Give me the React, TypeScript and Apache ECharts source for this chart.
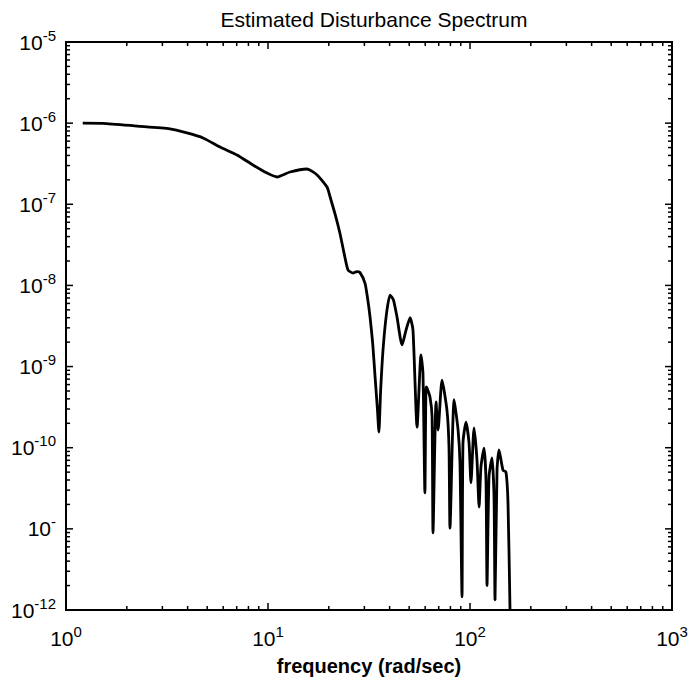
import React, { useEffect, useRef } from "react";
import * as echarts from "echarts";

// frequency (rad/sec)
const freq = [
  1.21, 1.52, 2.25, 3.27, 3.97, 4.77, 5.79, 7.02, 8.43, 9.89, 11.1, 12.85, 15.6, 17.5, 19.6,
  20.3, 21.5, 22.7, 23.8, 24.9, 26.4, 27.5, 28.5, 30.2, 31.1, 32, 33, 33.9, 34.8, 35.4, 36.1,
  37.1, 38.6, 40.2, 41.8, 43.5, 46.1, 48.2, 50.5, 52.2, 54.7, 57.2, 58.5, 59.8, 60.6, 61.3,
  63.4, 64.9, 65.6, 67.9, 69.5, 72.7, 76.9, 78.7, 79.6, 83.4, 87.3, 89.2, 91.3, 92.3, 95.5,
  98.9, 101.1, 104.7, 108.3, 110.9, 113.3, 117.3, 120.0, 121.4, 124.2, 128.5, 131.5, 133.0,
  136.1, 139.2, 145.6, 150.7, 154.2, 157.8,
];

// estimated disturbance spectrum
const spectrum = [
  1.0e-6, 9.95e-7, 9.2e-7, 8.5e-7, 7.57e-7, 6.57e-7, 5.08e-7, 4.05e-7, 3.05e-7, 2.43e-7,
  2.17e-7, 2.5e-7, 2.72e-7, 2.3e-7, 1.63e-7, 1.23e-7, 7.5e-8, 4.4e-8, 2.5e-8, 1.55e-8,
  1.42e-8, 1.48e-8, 1.45e-8, 1.07e-8, 7.0e-9, 4.1e-9, 1.9e-9, 7.4e-10, 3.0e-10, 1.56e-10,
  5.0e-10, 1.6e-9, 4.5e-9, 7.6e-9, 6.6e-9, 4.1e-9, 1.85e-9, 2.8e-9, 4.0e-9, 2.83e-9,
  1.8e-10, 1.39e-9, 8.3e-10, 2.77e-11, 5.6e-10, 5.4e-10, 4.2e-10, 2.4e-10, 8.9e-12, 3.66e-10,
  1.65e-10, 6.8e-10, 2.9e-10, 1.02e-10, 1.02e-11, 3.9e-10, 1.65e-10, 6.5e-11, 1.45e-12,
  1.14e-10, 2.07e-10, 1.14e-10, 3.7e-11, 1.75e-10, 7.0e-11, 1.86e-11, 5.8e-11, 9.9e-11,
  4.0e-11, 2.0e-12, 4.4e-11, 7.5e-11, 2.5e-11, 1.33e-12, 5.3e-11, 9.4e-11, 5.3e-11, 5.0e-11,
  2.1e-11, 1.0e-12,
];

// tick labels (superscripts) as printed
const xTickExponents = ["0", "1", "2", "3"];
const yTickExponents = ["-12", "-", "-10", "-9", "-8", "-7", "-6", "-5"];

const xDecades = [1, 10, 100];
const yDecades = [1e-12, 1e-11, 1e-10, 1e-9, 1e-8, 1e-7, 1e-6];
const minorSteps = [2, 3, 4, 5, 6, 7, 8, 9];

const X_MIN = 1, X_MAX = 1000, Y_MIN = 1e-12, Y_MAX = 1e-5;

export default function App() {
  const ref = useRef<HTMLDivElement>(null);
  useEffect(() => {
    if (!ref.current) return;
    const chart = echarts.init(ref.current, null, { renderer: "svg" });

    const xTicks: number[][] = [];
    xDecades.forEach((d) => {
      xTicks.push([d, 1]);
      minorSteps.forEach((m) => xTicks.push([d * m, 0]));
    });
    xTicks.push([X_MAX, 1]);
    const yTicks: number[][] = [];
    yDecades.forEach((d) => {
      yTicks.push([d, 1]);
      minorSteps.forEach((m) => yTicks.push([d * m, 0]));
    });
    yTicks.push([Y_MAX, 1]);

    const font = "Liberation Sans";
    const rich = {
      b: { fontSize: 21, fontFamily: font, color: "#000" },
      s: { fontSize: 15, fontFamily: font, color: "#000", padding: [0, 0, 14, 0] },
    };

    chart.setOption({
      animation: false,
      title: {
        text: "Estimated Disturbance Spectrum",
        left: 369,
        top: 4,
        textAlign: "center",
        textStyle: { fontFamily: font, fontSize: 21, fontWeight: "normal", color: "#000" },
      },
      grid: {
        left: 66,
        right: 20,
        top: 42,
        bottom: 79,
        show: true,
        borderColor: "#000",
        borderWidth: 2,
        backgroundColor: "#fff",
      },
      xAxis: {
        type: "log",
        logBase: 10,
        min: X_MIN,
        max: X_MAX,
        splitNumber: 3,
        name: "frequency (rad/sec)",
        nameLocation: "middle",
        nameGap: 46,
        nameTextStyle: { fontFamily: font, fontSize: 20, fontWeight: "bold", color: "#000" },
        axisLine: { show: true, lineStyle: { color: "#000", width: 2 } },
        axisTick: { show: false },
        splitLine: { show: false },
        axisLabel: {
          margin: 14,
          formatter: (v: number) => {
            const e = Math.round(Math.log10(v));
            return `{b|10}{s|${xTickExponents[e]}}`;
          },
          rich,
        },
      },
      yAxis: {
        type: "log",
        logBase: 10,
        min: Y_MIN,
        max: Y_MAX,
        splitNumber: 7,
        axisLine: { show: true, lineStyle: { color: "#000", width: 2 } },
        axisTick: { show: false },
        splitLine: { show: false },
        axisLabel: {
          margin: 10,
          formatter: (v: number) => {
            const e = Math.round(Math.log10(v));
            return `{b|10}{s|${yTickExponents[e + 12]}}`;
          },
          rich,
        },
      },
      series: [
        {
          type: "line",
          data: freq.map((f, i) => [f, spectrum[i]]),
          showSymbol: false,
          smooth: 0.2,
          lineStyle: { color: "#000", width: 2.8 },
          z: 3,
        },
        {
          type: "custom",
          data: xTicks,
          z: 4,
          renderItem: (_p: any, api: any) => {
            const v = api.value(0);
            const len = api.value(1) ? 7 : 4;
            const b = api.coord([v, Y_MIN]);
            const t = api.coord([v, Y_MAX]);
            const style = { stroke: "#000", lineWidth: 1.5 };
            return {
              type: "group",
              children: [
                { type: "line", shape: { x1: b[0], y1: b[1], x2: b[0], y2: b[1] - len }, style },
                { type: "line", shape: { x1: t[0], y1: t[1], x2: t[0], y2: t[1] + len }, style },
              ],
            };
          },
        },
        {
          type: "custom",
          data: yTicks.map((d) => [X_MIN, d[0], d[1]]),
          z: 4,
          renderItem: (_p: any, api: any) => {
            const v = api.value(1);
            const len = api.value(2) ? 7 : 4;
            const l = api.coord([X_MIN, v]);
            const r = api.coord([X_MAX, v]);
            const style = { stroke: "#000", lineWidth: 1.5 };
            return {
              type: "group",
              children: [
                { type: "line", shape: { x1: l[0], y1: l[1], x2: l[0] + len, y2: l[1] }, style },
                { type: "line", shape: { x1: r[0], y1: r[1], x2: r[0] - len, y2: r[1] }, style },
              ],
            };
          },
        },
      ],
    });
    return () => chart.dispose();
  }, []);

  return (
    <div
      ref={ref}
      style={{ position: "fixed", left: 0, top: 0, width: 692, height: 689, background: "#fff" }}
    />
  );
}
